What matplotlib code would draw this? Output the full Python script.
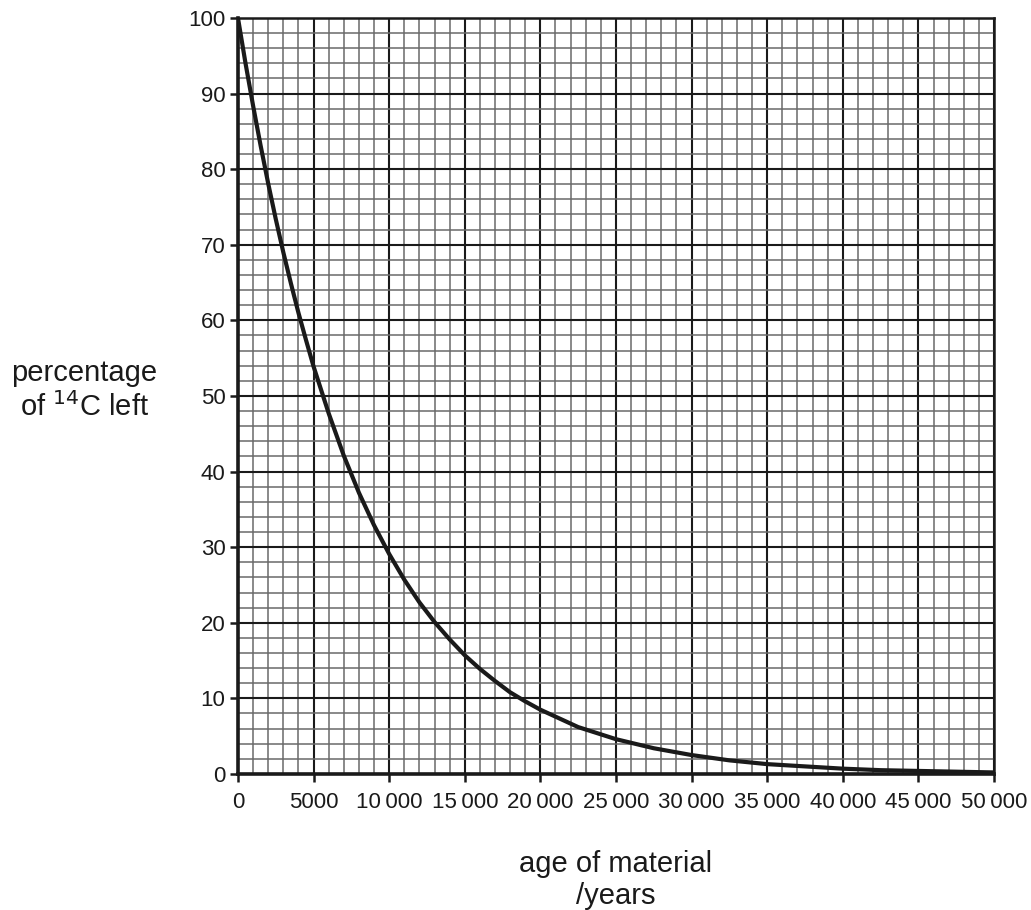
import matplotlib.pyplot as plt
from matplotlib.ticker import MultipleLocator

plt.rcParams["font.family"] = ["Liberation Sans", "DejaVu Sans"]

# values
age = [0, 500, 1000, 1500, 2000, 2500, 3000, 3500, 4000, 4500, 5000,
       6000, 7000, 8000, 9000, 10000,
       11000, 12000, 13000, 14000, 15000, 16000, 17000, 18000, 19000, 20000,
       22500, 25000, 27500, 30000, 32500, 35000, 37500, 40000, 42500, 45000,
       47500, 50000]
percent = [100, 94.0, 88.4, 83.1, 78.1, 73.4, 69.0, 64.9, 61.0, 57.4, 53.9,
           47.7, 42.1, 37.2, 32.9, 29.1,
           25.7, 22.7, 20.1, 17.8, 15.7, 13.9, 12.3, 10.8, 9.6, 8.5,
           6.2, 4.6, 3.4, 2.5, 1.8, 1.3, 1.0, 0.7, 0.5, 0.4,
           0.3, 0.2]

x_ticks = list(range(0, 50001, 5000))
x_labels = ["0", "5000"] + [f"{v // 1000}\u2009000" for v in x_ticks[2:]]
y_ticks = list(range(0, 101, 10))

fig = plt.figure(figsize=(10.31, 9.10), dpi=100)
ax = fig.add_axes([0.2308, 0.1495, 0.7333, 0.8308])

ax.set_xlim(0, 50000)
ax.set_ylim(0, 100)
ax.xaxis.set_minor_locator(MultipleLocator(1000))
ax.yaxis.set_minor_locator(MultipleLocator(2))
ax.set_xticks(x_ticks)
ax.set_xticklabels(x_labels)
ax.set_yticks(y_ticks)

ax.grid(which="minor", color="#6a6a6a", linewidth=1.1)
ax.grid(which="major", color="#1a1a1a", linewidth=1.5)
ax.set_axisbelow(True)

ax.plot(age, percent, color="#1a1a1a", linewidth=3.0, solid_capstyle="butt",
        solid_joinstyle="round")

ax.tick_params(which="major", direction="out", length=6, width=1.8,
               labelsize=16, colors="#1a1a1a")
ax.tick_params(axis="y", pad=3)
ax.tick_params(axis="x", pad=7)
ax.tick_params(which="minor", length=0)
for side in ["left", "bottom"]:
    ax.spines[side].set_linewidth(2.6)
for side in ["top", "right"]:
    ax.spines[side].set_linewidth(1.8)
for s in ax.spines.values():
    s.set_color("#1a1a1a")

fig.text(0.082, 0.571, "percentage\nof $^{14}$C left", ha="center", va="center",
         fontsize=21, color="#1a1a1a", linespacing=1.2)
fig.text(0.597, 0.033, "age of material\n/years", ha="center", va="center",
         fontsize=21, color="#1a1a1a", linespacing=1.2)

fig.savefig("out.png", dpi=100, facecolor="white")
